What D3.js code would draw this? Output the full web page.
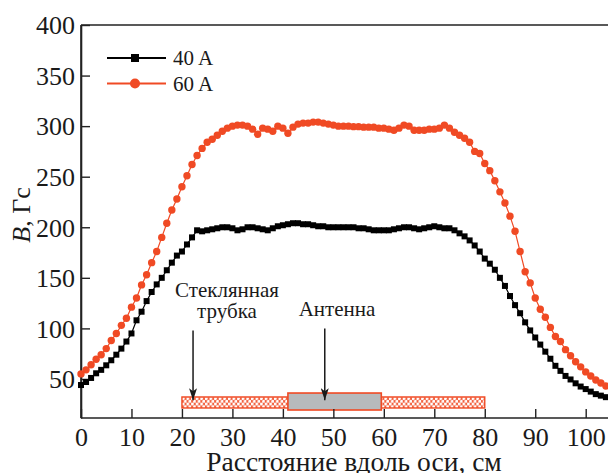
<!DOCTYPE html>
<html>
<head>
<meta charset="utf-8">
<script src="https://cdn.jsdelivr.net/npm/d3@7"></script>
<style>
  html, body { margin: 0; padding: 0; background: #fff; }
  svg { display: block; font-family: "Liberation Serif", "Times New Roman", "DejaVu Serif", serif; }
</style>
</head>
<body>
<svg id="chart" width="608" height="473"></svg>
<script>
// Positions along the axis, cm
const distance = d3.range(0, 105);

// Field B (Gs) at a coil current of 40 A
const field40 = [
  44, 47, 51, 55.6, 59, 63.5, 68.5, 74, 80, 87,
  95, 108, 116.5, 127, 136, 143.5, 150, 157.5, 165, 172,
  176, 183, 190, 197, 196, 197, 198, 199, 200, 200,
  199, 197, 198, 200, 200, 199, 198, 197, 199, 201,
  202, 203, 204, 204, 203, 203, 202, 201, 201, 200,
  200, 200, 200, 200, 200, 199, 199, 198, 197, 197,
  197, 197, 198, 199, 200, 200, 199, 198, 199, 200,
  201, 200, 199, 199, 197, 194, 191, 187, 182, 176,
  169, 164, 158, 150, 142, 132, 123, 115, 106, 98,
  91, 84, 77, 70, 63, 58, 53, 49.5, 45.7, 42.5,
  40, 37.5, 35, 33.5, 32
];

// Field B (Gs) at a coil current of 60 A
const field60 = [
  55, 59, 64, 69.5, 74, 80, 88, 95, 103, 110,
  121, 130, 143, 153, 165, 176, 190, 204, 217, 228,
  240, 251, 262, 271, 278, 284, 287, 291, 295, 298,
  300, 301, 301, 300, 297, 292, 298, 297, 295, 300,
  298, 293, 299, 302, 303, 303, 304, 304, 303, 302,
  301, 300, 300, 300, 299.5, 299.5, 299, 299, 299, 298,
  298, 297, 296, 298, 301, 300, 296, 296, 296, 297,
  297, 298, 301, 298, 294, 291, 288, 284, 275, 273,
  263, 256, 246, 235, 224, 211, 196, 176, 156, 145,
  130, 119, 111, 101, 92, 87, 79, 73, 67, 62,
  57, 53, 49, 46, 43
];

const seriesNames = ["40 A", "60 A"];
const xTicks = [0, 10, 20, 30, 40, 50, 60, 70, 80, 90, 100];
const yTicks = [50, 100, 150, 200, 250, 300, 350, 400];

// Setup drawn under the curves: glass tube and antenna (cm along axis, band in Gs units)
const tubeSpan = [20, 80];
const tubeBand = [21.3, 32.2];
const antennaSpan = [41, 59.5];
const antennaBand = [19.3, 36.1];
const tubeArrow = { x: 22.2, from: 98, to: 29 };
const antennaArrow = { x: 48.3, from: 100, to: 29 };

const RED = "#f04a24";
const INK = "#1a1a1a";
const SERIF = "'Liberation Serif', 'Times New Roman', 'DejaVu Serif', serif";

const svg = d3.select("#chart");
const margin = { left: 81, top: 25, bottom: 418 };

const x = d3.scaleLinear().domain([0, 105]).range([margin.left, margin.left + 105 * 5.047]);
const y = d3.scaleLinear().domain([11.4, 400]).range([margin.bottom, margin.top]);

// Lattice pattern for the glass tube: red web with staggered white holes
const defs = svg.append("defs");
const pat = defs.append("pattern")
  .attr("id", "hatch")
  .attr("patternUnits", "userSpaceOnUse")
  .attr("width", 4.6).attr("height", 5.4)
  .attr("x", x(tubeSpan[0])).attr("y", y(tubeBand[1]) + 0.3);
pat.append("rect").attr("width", 4.6).attr("height", 5.4).attr("fill", "#f2613f");
pat.append("circle").attr("cx", 1.15).attr("cy", 1.35).attr("r", 1.55).attr("fill", "#fff");
pat.append("circle").attr("cx", 3.45).attr("cy", 4.05).attr("r", 1.55).attr("fill", "#fff");

// Arrowhead
defs.append("marker")
  .attr("id", "arrowhead")
  .attr("viewBox", "0 0 12 8")
  .attr("refX", 12).attr("refY", 4)
  .attr("markerWidth", 12).attr("markerHeight", 8)
  .attr("markerUnits", "userSpaceOnUse")
  .attr("orient", "auto")
  .append("path").attr("d", "M0,0 L12,4 L0,8 L3,4 Z").attr("fill", INK);

// Glass tube
svg.append("rect")
  .attr("x", x(tubeSpan[0])).attr("y", y(tubeBand[1]))
  .attr("width", x(tubeSpan[1]) - x(tubeSpan[0]))
  .attr("height", y(tubeBand[0]) - y(tubeBand[1]))
  .attr("fill", "url(#hatch)").attr("stroke", RED).attr("stroke-width", 1.4);

// Antenna
svg.append("rect")
  .attr("x", x(antennaSpan[0])).attr("y", y(antennaBand[1]))
  .attr("width", x(antennaSpan[1]) - x(antennaSpan[0]))
  .attr("height", y(antennaBand[0]) - y(antennaBand[1]))
  .attr("fill", "#b7babc").attr("stroke", RED).attr("stroke-width", 1.6);

// Pointers
[tubeArrow, antennaArrow].forEach(a => {
  svg.append("line")
    .attr("x1", x(a.x)).attr("x2", x(a.x))
    .attr("y1", y(a.from)).attr("y2", y(a.to))
    .attr("stroke", INK).attr("stroke-width", 1.5)
    .attr("marker-end", "url(#arrowhead)");
});

const labelSize = 21;
const note = (tx, ty, str) => svg.append("text").attr("x", tx).attr("y", ty)
  .attr("text-anchor", "middle").attr("font-family", SERIF)
  .attr("font-size", labelSize).attr("fill", INK).text(str);
note(227, 297, "Стеклянная");
note(227, 318, "трубка");
note(337, 316, "Антенна");

// Axes frame
const frame = svg.append("g").attr("stroke", "#222").attr("stroke-width", 1.6).attr("fill", "none");
frame.append("line").attr("x1", x(0)).attr("x2", x(0)).attr("y1", y(400)).attr("y2", y.range()[0]);
frame.append("line").attr("x1", x(0)).attr("x2", 608).attr("y1", y(400)).attr("y2", y(400));

const xAxis = svg.append("g").attr("transform", `translate(0,${margin.bottom})`)
  .call(d3.axisBottom(x).tickValues(xTicks).tickSizeInner(-9).tickSizeOuter(0).tickPadding(10).tickFormat(d3.format("d")));
const yAxis = svg.append("g").attr("transform", `translate(${margin.left},0)`)
  .call(d3.axisLeft(y).tickValues(yTicks).tickSizeInner(-9).tickSizeOuter(0).tickPadding(15).tickFormat(d3.format("d")));

[xAxis, yAxis].forEach(g => {
  g.select(".domain").attr("stroke", "#222").attr("stroke-width", 1.6);
  g.selectAll(".tick line").attr("stroke", "#222").attr("stroke-width", 1.4);
  g.selectAll(".tick text").attr("font-family", SERIF)
    .attr("font-size", 26).attr("fill", INK);
});
xAxis.select(".domain").attr("d", `M${x(0)},0H608`);
yAxis.selectAll(".tick text").attr("x", -6).attr("dy", "0.34em");
xAxis.selectAll(".tick text").attr("y", 10).attr("dy", "0.71em");

// Axis titles
svg.append("text").attr("x", 354).attr("y", 471).attr("text-anchor", "middle")
  .attr("font-family", SERIF).attr("font-size", 27.5).attr("fill", INK)
  .text("Расстояние вдоль оси, см");
const yTitle = svg.append("text")
  .attr("transform", `translate(30,215) rotate(-90)`)
  .attr("text-anchor", "middle").attr("font-family", SERIF)
  .attr("font-size", 26).attr("fill", INK);
yTitle.append("tspan").attr("font-style", "italic").text("B");
yTitle.append("tspan").text(", Гс");

// Curves
const line = d3.line().x(d => x(d[0])).y(d => y(d[1]));
const pts40 = distance.map((d, i) => [d, field40[i]]);
const pts60 = distance.map((d, i) => [d, field60[i]]);

svg.append("path").datum(pts40).attr("d", line).attr("fill", "none")
  .attr("stroke", "#000").attr("stroke-width", 1.2);
svg.append("g").selectAll("rect").data(pts40).join("rect")
  .attr("x", d => x(d[0]) - 3).attr("y", d => y(d[1]) - 3)
  .attr("width", 6).attr("height", 6).attr("fill", "#000");

svg.append("path").datum(pts60).attr("d", line).attr("fill", "none")
  .attr("stroke", RED).attr("stroke-width", 1.2);
svg.append("g").selectAll("circle").data(pts60).join("circle")
  .attr("cx", d => x(d[0])).attr("cy", d => y(d[1])).attr("r", 3.7).attr("fill", RED);

// Legend
const legend = svg.append("g");
seriesNames.forEach((name, i) => {
  const ly = 58 + i * 25.5;
  legend.append("line").attr("x1", 107).attr("x2", 166).attr("y1", ly).attr("y2", ly)
    .attr("stroke", i === 0 ? "#000" : RED).attr("stroke-width", 1.8);
  if (i === 0) {
    legend.append("rect").attr("x", 131).attr("y", ly - 4).attr("width", 8).attr("height", 8).attr("fill", "#000");
  } else {
    legend.append("circle").attr("cx", 135).attr("cy", ly).attr("r", 5).attr("fill", RED);
  }
  legend.append("text").attr("x", 173).attr("y", ly + 7).attr("font-family", SERIF)
    .attr("font-size", 21).attr("fill", INK).text(name);
});
</script>
</body>
</html>
